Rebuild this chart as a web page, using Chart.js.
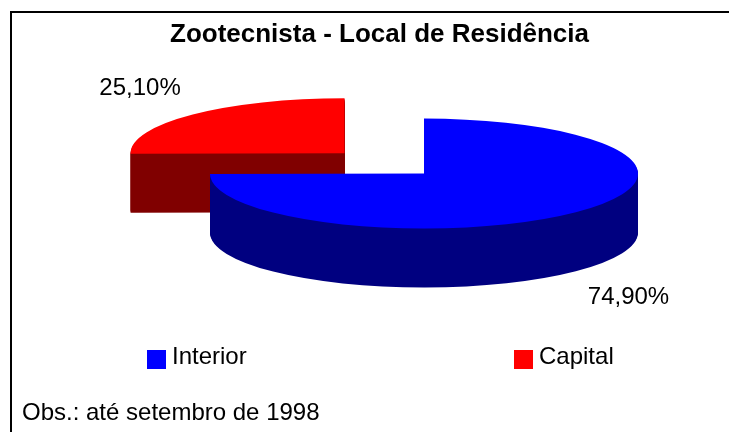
<!DOCTYPE html>
<html>
<head>
<meta charset="utf-8">
<script src="https://cdn.jsdelivr.net/npm/chart.js@4.4.1/dist/chart.umd.min.js"></script>
<style>
body { margin: 0; background: #fff; font-family: Arial, "Liberation Sans", sans-serif; color: #000; }
#wrap { position: relative; width: 729px; height: 432px; overflow: hidden; }
#frame { position: absolute; left: 10px; top: 11px; width: 760px; height: 460px; border-left: 2px solid #000; border-top: 2px solid #000; }
#chart { position: absolute; left: 0; top: 0; }
#legend { position: absolute; left: 147px; top: 344px; display: flex; }
.item { width: 367px; display: flex; align-items: flex-start; font-size: 24px; line-height: 24px; }
.box { width: 19px; height: 19px; margin-right: 6px; margin-top: 6px; }
#note { position: absolute; left: 22px; top: 400px; font-size: 24px; line-height: 24px; }
</style>
</head>
<body>
<div id="wrap">
  <div id="frame"></div>
  <canvas id="chart" width="729" height="432"></canvas>
  <div id="legend"></div>
  <div id="note">Obs.: até setembro de 1998</div>
</div>
<script>
// dados
const categories = ['Interior', 'Capital'];
const shares = [74.9, 25.1];

// estilo
const topColors = ['#0000ff', '#ff0000'];
const sideColors = ['#000080', '#800000'];
const VIEW = { rx: 214, ry: 55, depth: 59 };
const FONT = 'Arial, "Liberation Sans", sans-serif';

function fmtPct(v) {
    return v.toFixed(2).replace('.', ',') + '%';
}

function view(chart) {
    const base = chart.getDatasetMeta(0).data[0];
    return { cx: base.x, cy: base.y, sx: VIEW.rx / base.outerRadius, sy: VIEW.ry / base.outerRadius };
}

// torta 3D: achata o círculo e desenha a lateral por camadas
const pie3d = {
    id: 'pie3d',
    beforeDatasetsDraw(chart) {
        const ctx = chart.ctx;
        const arcs = chart.getDatasetMeta(0).data;
        const v = view(chart);
        ctx.save();
        ctx.translate(v.cx, v.cy);
        ctx.scale(v.sx, v.sy);
        ctx.translate(-v.cx, -v.cy);
        const order = arcs.map((a, i) => i).sort((i, j) => {
            const ai = arcs[i], aj = arcs[j];
            return Math.sin((ai.startAngle + ai.endAngle) / 2) - Math.sin((aj.startAngle + aj.endAngle) / 2);
        });
        order.forEach(i => {
            const arc = arcs[i];
            const opts = arc.options;
            arc.options = Object.assign({}, opts, { backgroundColor: sideColors[i], borderWidth: 0 });
            for (let d = VIEW.depth; d >= 1; d--) {
                ctx.save();
                ctx.translate(0, d / v.sy);
                arc.draw(ctx);
                ctx.restore();
            }
            arc.options = opts;
        });
    },
    afterDatasetsDraw(chart) {
        const ctx = chart.ctx;
        ctx.restore();
        const arcs = chart.getDatasetMeta(0).data;
        const v = view(chart);
        ctx.save();
        ctx.font = '24px ' + FONT;
        ctx.fillStyle = '#000';
        ctx.textBaseline = 'middle';
        arcs.forEach((arc, i) => {
            const a = (arc.startAngle + arc.endAngle) / 2;
            const r = (arc.options.offset || 0) / 4 + arc.outerRadius;
            const x = v.cx + Math.cos(a) * r * v.sx;
            const y = v.cy + Math.sin(a) * r * v.sy + (Math.sin(a) > 0 ? VIEW.depth : 0);
            const left = Math.cos(a) < 0, up = Math.sin(a) < 0;
            ctx.textAlign = left ? 'right' : 'left';
            ctx.fillText(fmtPct(shares[i]), x + (left ? -12 : 12), y + (up ? -26 : 26));
        });
        ctx.restore();
    }
};

const chart = new Chart(document.getElementById('chart'), {
    type: 'pie',
    data: {
        labels: categories,
        datasets: [{
            data: shares,
            backgroundColor: topColors,
            borderWidth: 0,
            offset: [0, 116],
            clip: false
        }]
    },
    options: {
        responsive: false,
        animation: false,
        events: [],
        layout: { padding: { left: 170, right: 51, top: 12, bottom: 145 } },
        plugins: {
            legend: { display: false },
            tooltip: { enabled: false },
            title: {
                display: true,
                text: 'Zootecnista - Local de Residência',
                align: 'start',
                color: '#000',
                font: { family: FONT, size: 26, weight: 'bold' },
                padding: { top: 7, bottom: 10 }
            }
        }
    },
    plugins: [pie3d]
});

// legenda em HTML a partir do gráfico
const legendEl = document.getElementById('legend');
chart.data.labels.forEach((lab, i) => {
    const item = document.createElement('div');
    item.className = 'item';
    const box = document.createElement('span');
    box.className = 'box';
    box.style.background = chart.data.datasets[0].backgroundColor[i];
    item.appendChild(box);
    item.appendChild(document.createTextNode(lab));
    legendEl.appendChild(item);
});
</script>
</body>
</html>
